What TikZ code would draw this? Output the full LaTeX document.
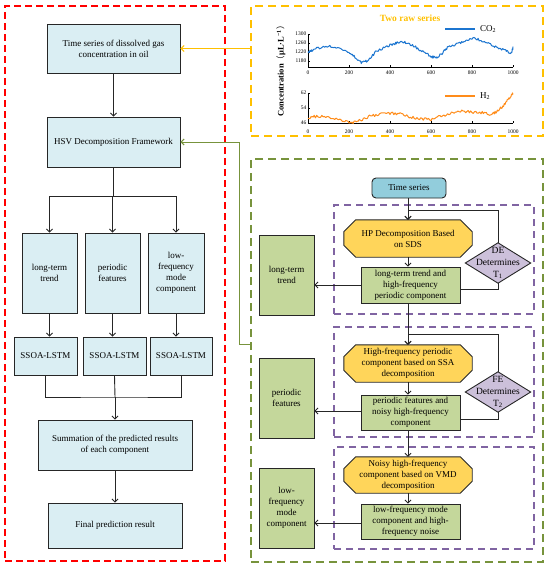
\documentclass[tikz,border=0pt]{standalone}
\usepackage{fontspec}
\setmainfont{Liberation Serif}
\newfontfamily\cjk{Noto Sans CJK SC}
\usetikzlibrary{arrows.meta}
\pgfdeclarelayer{background}
\pgfsetlayers{background,main}
\definecolor{lblue}{HTML}{DAEEF3}
\definecolor{lgreen}{HTML}{C4D79B}
\definecolor{tsblue}{HTML}{92CDDC}
\definecolor{hexyel}{HTML}{FFD55A}
\definecolor{dpurp}{HTML}{CCC0DA}
\definecolor{purp}{HTML}{8064A2}
\definecolor{olive}{HTML}{77933C}
\definecolor{amber}{HTML}{FFC000}
\definecolor{cblue}{HTML}{1C75D0}
\definecolor{corange}{HTML}{FF8C1A}
\definecolor{edge}{HTML}{262626}
\begin{document}
\begin{tikzpicture}[x=1pt,y=-1pt,
  every node/.style={font=\fontsize{9}{11}\selectfont, inner sep=0pt, align=center},
  box/.style={draw=edge, line width=0.9pt, rectangle},
  bluebox/.style={box, fill=lblue},
  greenbox/.style={box, fill=lgreen},
  hexnode/.style={rectangle},
  dianode/.style={rectangle, minimum width=65pt, minimum height=40pt, font=\fontsize{9.5}{12}\selectfont},
  hexfill/.style={draw=edge, line width=0.9pt, fill=hexyel},
  diafill/.style={draw=edge, line width=0.9pt, fill=dpurp},
  sz/.style 2 args={minimum width=#1pt, minimum height=#2pt},
  arr/.style={-{Straight Barb[length=3pt,width=6pt]}, line width=0.9pt, draw=edge},
  ln/.style={line width=0.9pt, draw=edge},
  reddash/.style={draw=red, line width=1.2pt, dash pattern=on 7pt off 4pt},
  yeldash/.style={draw=amber, line width=1.2pt, dash pattern=on 8pt off 5pt},
  grndash/.style={draw=olive, line width=1.2pt, dash pattern=on 8pt off 5pt},
  purdash/.style={draw=purp, line width=1.1pt, dash pattern=on 7pt off 5pt},
  tick/.style={font=\fontsize{5.5}{6}\selectfont},
  axis/.style={line width=0.7pt, draw=black},
  series/.style={line width=1pt, line join=round}
]
\useasboundingbox (0,0) rectangle (550,565);

% outer dashed frames
\node[reddash, sz={220}{555}] (rb) at (115,283.5) {};
\node[yeldash, sz={292}{130}] (yb) at (397,71) {};
\node[grndash, sz={292}{403}] (gb) at (397,360.5) {};
\node[purdash, sz={200}{109}] (p1) at (434,259.5) {};
\node[purdash, sz={200}{110}] (p2) at (434,382) {};
\node[purdash, sz={200}{102}] (p3) at (434,498) {};

% left column
\node[bluebox, sz={133}{49}] (b1) at (113.5,48.5) {Time series of dissolved gas\\concentration in oil};
\node[bluebox, sz={133}{50}] (b2) at (113.5,142) {HSV Decomposition Framework};
\node[bluebox, sz={55}{80}] (bA) at (49.5,273) {long-term\\trend};
\node[bluebox, sz={55}{80}] (bB) at (112.5,273) {periodic\\features};
\node[bluebox, sz={56}{80}] (bC) at (176,273) {low-\\frequency\\mode\\component};
\node[bluebox, sz={63}{38}] (s1) at (45.5,356) {SSOA-LSTM};
\node[bluebox, sz={63}{38}] (s2) at (114.5,356) {SSOA-LSTM};
\node[bluebox, sz={62}{38}] (s3) at (181,356) {SSOA-LSTM};
\node[bluebox, sz={154}{50}] (sum) at (115,445) {Summation of the predicted results\\of each component};
\node[bluebox, sz={134}{45}] (fin) at (115,525.5) {Final prediction result};

\coordinate (j1) at (113.5,196);
\coordinate (j2) at (115,397);
\draw[arr] (b1.south) -- (b2.north);
\draw[ln] (b2.south) -- (j1);
\draw[arr] (j1) -| (bA.north);
\draw[arr] (j1) -| (bC.north);
\draw[arr] (j1) -- (j1 -| bB.north) -- (bB.north);
\draw[arr] (bA.south) -- (bA.south |- s1.north);
\draw[arr] (bB.south) -- (bB.south |- s2.north);
\draw[arr] (bC.south) -- (bC.south |- s3.north);
\draw[ln] (s1.south) |- (j2) -| (s3.south);
\draw[ln] (s2.south) -- (j2);
\draw[arr] (j2) -- (sum.north);
\draw[arr] (sum.south) -- (fin.north);

% connectors from right frames
\draw[-{Straight Barb[length=3pt,width=6pt]}, draw=amber, line width=1pt] (yb.west |- b1.east) -- (b1.east);
\coordinate (g1) at (239,344);
\draw[-{Straight Barb[length=3pt,width=6pt]}, draw=olive, line width=1pt] (gb.west |- g1) -- (g1) |- (b2.east);

% right flow
\node[box, fill=tsblue, rounded corners=4pt, sz={74}{20}] (ts) at (409,188) {Time series};
\node[hexnode, sz={128}{37}] (h1) at (408,238.5) {HP Decomposition Based\\on SDS};
\node[greenbox, sz={99}{36}] (g1r) at (410.5,285) {long-term trend and\\high-frequency\\periodic component};
\node[dianode] (d1) at (498,263) {DE\\Determines\\T\textsubscript{1}};
\node[hexnode, sz={128}{37}] (h2) at (408,363.5) {High-frequency periodic\\component based on SSA\\decomposition};
\node[greenbox, sz={99}{35}] (g2r) at (410.5,412.5) {periodic features and\\noisy high-frequency\\component};
\node[dianode] (d2) at (498,392) {FE\\Determines\\T\textsubscript{2}};
\node[hexnode, sz={128}{36}] (h3) at (408,475) {Noisy high-frequency\\component based on VMD\\decomposition};
\node[greenbox, sz={99}{35}] (g3r) at (410.5,521.5) {low-frequency mode\\component and high-\\frequency noise};
\node[greenbox, sz={55}{80}] (lg1) at (286.5,275) {long-term\\trend};
\node[greenbox, sz={55}{80}] (lg2) at (286.5,398) {periodic\\features};
\node[greenbox, sz={55}{80}] (lg3) at (286.5,508) {low-\\frequency\\mode\\component};

\begin{pgfonlayer}{background}
  \foreach \h in {h1,h2,h3}{
    \path[hexfill] ([xshift=12pt]\h.north west) -- ([xshift=-12pt]\h.north east)
      -- ([yshift=-12pt]\h.north east) -- ([yshift=12pt]\h.south east)
      -- ([xshift=-12pt]\h.south east) -- ([xshift=12pt]\h.south west)
      -- ([yshift=12pt]\h.south west) -- ([yshift=-12pt]\h.north west) -- cycle;
  }
  \foreach \d in {d1,d2}{
    \path[diafill] (\d.north) -- (\d.east) -- (\d.south) -- (\d.west) -- cycle;
  }
\end{pgfonlayer}

\draw[arr] (h1.north |- ts.south) -- (h1.north);
\draw[arr] (d1.north) |- ([yshift=9pt]h1.north) -- (h1.north);
\draw[ln] (d1.south) |- ([yshift=-4pt]g1r.east);
\draw[arr] (h1.south) -- (h1.south |- g1r.north);
\draw[arr] (h1.south |- g1r.south) -- (h2.north);
\draw[arr] (d2.north) |- ([yshift=10pt]h2.north) -- (h2.north);
\draw[ln] (d2.south) |- ([yshift=-6.5pt]g2r.east);
\draw[arr] (h2.south) -- (h2.south |- g2r.north);
\draw[arr] (h2.south |- g2r.south) -- (h3.north);
\draw[arr] (h3.south) -- (h3.south |- g3r.north);
\draw[arr] (g1r.west) -- (g1r.west -| lg1.east);
\draw[arr] ([yshift=1.5pt]g2r.west) -- ([yshift=1.5pt]g2r.west -| lg2.east);
\draw[arr] ([yshift=-1.5pt]g3r.west) -- ([yshift=-1.5pt]g3r.west -| lg3.east);

% chart
\node[font=\bfseries\fontsize{9.5}{11}\selectfont, text=amber] (title) at (410,18) {Two raw series};
\node[rotate=90, font=\bfseries\fontsize{8.5}{9}\selectfont] (ylab) at (281,69) {Concentration{\cjk\mdseries （}μL·L\textsuperscript{−1}{\cjk\mdseries ）}};

\draw[axis] (308,34) -- (308,67) -- (513,67);
\draw[axis] (308,93) -- (308,123) -- (513,123);
\foreach \i/\t in {0/0,1/200,2/400,3/600,4/800,5/1000}{
  \draw[axis] ({308+41*\i},67) -- ({308+41*\i},65);
  \draw[axis] ({308+41*\i},123) -- ({308+41*\i},121);
  \node[tick] (tx\i) at ({308+41*\i},73) {\t};
  \node[tick] (ux\i) at ({308+41*\i},131.5) {\t};
}
\foreach \v/\y in {1300/34,1260/43,1220/52,1180/61}{
  \draw[axis] (308,\y) -- (310,\y);
  \node[tick, anchor=east] (ty\v) at (306.5,\y) {\v};
}
\foreach \v/\y in {62/93,54/108,46/123}{
  \draw[axis] (308,\y) -- (310,\y);
  \node[tick, anchor=east] (uy\v) at (306.5,\y) {\v};
}

\draw[cblue, series] (308,52.45) foreach \xa/\ya/\xb/\yb in {
308/52.45/312.1/50.2, 312.1/50.2/318.25/47.95, 318.25/47.95/328.5/46.6, 328.5/46.6/338.75/47.28,
338.75/47.28/346.95/51.55, 346.95/51.55/354.125/56.5, 354.125/56.5/361.3/62.35, 361.3/62.35/367.45/61.0,
367.45/61.0/375.65/52.0, 375.65/52.0/385.9/46.38, 385.9/46.38/394.1/43.68, 394.1/43.68/400.25/42.1,
400.25/42.1/406.4/42.78, 406.4/42.78/414.6/46.38, 414.6/46.38/422.8/51.55, 422.8/51.55/431.0/56.5,
431.0/56.5/436.125/57.85, 436.125/57.85/441.25/54.25, 441.25/54.25/447.4/47.5, 447.4/47.5/455.6/44.8,
455.6/44.8/463.8/41.88, 463.8/41.88/472.0/38.28, 472.0/38.28/480.2/39.85, 480.2/39.85/488.4/43.9,
488.4/43.9/496.6/47.5, 496.6/47.5/504.8/50.2, 504.8/50.2/510.95/54.25, 510.95/54.25/513/47.5}
 { foreach \k in {1,...,8} { -- ({\xa+(\xb-\xa)*\k/8},{\ya+(\yb-\ya)*\k/8+1.3*rand}) } };

\draw[corange, series] (308,118.31) foreach \xa/\ya/\xb/\yb in {
308/118.31/314.15/116.44, 314.15/116.44/324.4/116.81, 324.4/116.81/334.65/118.88, 334.65/118.88/344.9/121.5,
344.9/121.5/353.1/122.44, 353.1/122.44/361.3/120.19, 361.3/120.19/369.5/116.44, 369.5/116.44/379.75/114.38,
379.75/114.38/390/113.25, 390/113.25/400.25/114.0, 400.25/114.0/410.5/117.0, 410.5/117.0/420.75/118.69,
420.75/118.69/431/119.63, 431/119.63/441.25/115.88, 441.25/115.88/451.5/113.25, 451.5/113.25/461.75/111.19,
461.75/111.19/472/112.13, 472/112.13/482.25/112.69, 482.25/112.69/490.45/114.38, 490.45/114.38/496.6/111.75,
496.6/111.75/502.75/106.13, 502.75/106.13/508.9/98.63, 508.9/98.63/513/93.38}
 { foreach \k in {1,...,8} { -- ({\xa+(\xb-\xa)*\k/8},{\ya+(\yb-\ya)*\k/8+1.4*rand}) } };

\draw[cblue, line width=1.4pt] (445,29) -- (475,29) coordinate (lc);
\node[anchor=west, font=\fontsize{9}{10}\selectfont] (lct) at (480,29.5) {CO\textsubscript{2}};
\draw[corange, line width=1.4pt] (445,96) -- (475,96) coordinate (lh);
\node[anchor=west, font=\fontsize{9}{10}\selectfont] (lht) at (480,96.5) {H\textsubscript{2}};
\end{tikzpicture}
\end{document}
